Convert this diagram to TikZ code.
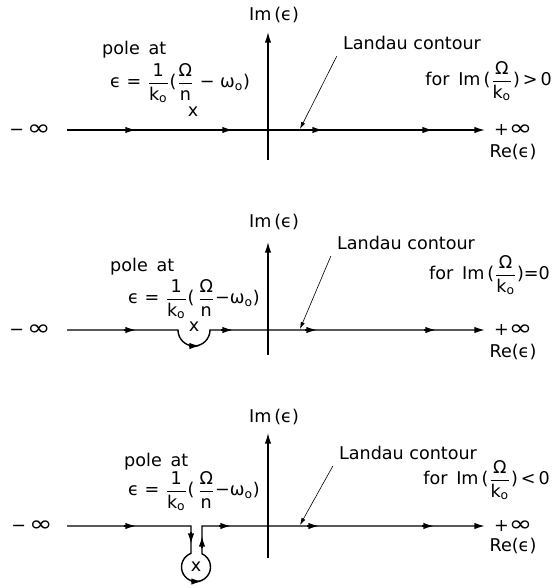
\documentclass[tikz,border=0pt]{standalone}
\usepackage{amsmath}
\usepackage{fontspec}
\setmainfont{DejaVu Sans}
\usetikzlibrary{arrows.meta}
\newcommand{\vfr}[2]{$\genfrac{}{}{0.4pt}{0}{\text{#1}}{\text{#2}}$}
\newcommand{\ko}{k$_\text{o}$}
\newcommand{\infsym}{\scalebox{1.6}[1.25]{∞}}

\begin{document}
\begin{tikzpicture}[x=0.02cm, y=0.02cm,
  every node/.style={font=\fontsize{10}{12}\selectfont},
  contour/.style={line width=0.8pt, -{Latex[length=6pt,width=3.6pt]}},
  axis/.style={line width=0.7pt, -{Latex[length=6pt,width=3.6pt]}},
  midtip/.style={line width=0.8pt, -{Latex[length=6pt,width=3.6pt]}},
  pointer/.style={line width=0.35pt, -{Latex[length=4pt,width=2.4pt]}}]
  \useasboundingbox (0,0) rectangle (556,-588);

  % Im(Omega/k0) > 0 : straight contour
  \node (im1) at (274,-15) {Im\,(ϵ)};
  \draw[axis] (268,-160) -- (268,-32);
  \draw[contour] (67,-130) -- (485,-130);
  \foreach \ax in {136,233,323,433} \draw[midtip] (\ax-12,-130) -- (\ax,-130);
  \node (minf1) at (30,-130) {−\,\infsym};
  \node[anchor=west] (pinf1) at (488,-130) {+\infsym};
  \node (re1) at (513,-152) {Re(ϵ)};
  \node[anchor=west] (pole1) at (96,-50) {pole\hspace{0.5em}at};
  \node[anchor=west] (eq1) at (104,-83) {ϵ = \vfr{1}{\ko}(\vfr{Ω}{n} − ω$_\text{o}$)};
  \node (x1) at (193,-112) {x};
  \node (landau1) at (412,-43) {Landau contour};
  \node[anchor=east] (cond1) at (558,-81) {for\hspace{0.5em}Im\,(\vfr{Ω}{\ko})\,>\,0};
  \coordinate (hit1) at (300,-129);
  \draw[pointer] (landau1.south west) -- (hit1);

  % Im(Omega/k0) = 0 : half circle under the pole
  \node (im2) at (274,-222) {Im\,(ϵ)};
  \draw[axis] (268,-355) -- (268,-242);
  \draw[contour] (67,-330) -- (178,-330) arc (180:360:16) -- (485,-330);
  \foreach \ax in {136,233,317,436} \draw[midtip] (\ax-12,-330) -- (\ax,-330);
  \draw[midtip] (189,-346) -- (200,-346);
  \node (minf2) at (30,-330) {−\,\infsym};
  \node[anchor=west] (pinf2) at (488,-330) {+\infsym};
  \node (re2) at (513,-352) {Re(ϵ)};
  \node[anchor=west] (pole2) at (104,-267) {pole\hspace{0.5em}at};
  \node[anchor=west] (eq2) at (122,-299) {ϵ = \vfr{1}{\ko}(\,\vfr{Ω}{n}−ω$_\text{o}$)};
  \node (x2) at (194,-327) {x};
  \node (landau2) at (406,-243) {Landau contour};
  \node[anchor=east] (cond2) at (556,-275) {for\hspace{0.5em}Im\,(\vfr{Ω}{\ko})=0};
  \coordinate (hit2) at (300,-329);
  \draw[pointer] (landau2.south west) -- (hit2);

  % Im(Omega/k0) < 0 : contour dips round the pole
  \node (im3) at (274,-417) {Im\,(ϵ)};
  \draw[axis] (268,-558) -- (268,-433);
  \draw[contour] (67,-526) -- (191,-526) -- (191,-553.4) arc (110.2:425.6:14.5)
    -- (202,-526) -- (485,-526);
  \foreach \ax in {136,231,319,434} \draw[midtip] (\ax-12,-526) -- (\ax,-526);
  \draw[midtip] (191,-532) -- (191,-544);
  \draw[midtip] (202,-548) -- (202,-536);
  \draw[midtip] (191,-581.5) -- (202,-581.5);
  \node (minf3) at (32,-526) {−\,\infsym};
  \node[anchor=west] (pinf3) at (488,-526) {+\infsym};
  \node (re3) at (513,-546) {Re(ϵ)};
  \node[anchor=west] (pole3) at (118,-462) {pole\hspace{0.5em}at};
  \node[anchor=west] (eq3) at (122,-491) {ϵ = \vfr{1}{\ko}(\,\vfr{Ω}{n}−ω$_\text{o}$)};
  \node (x3) at (196,-567) {x};
  \node (landau3) at (408,-453) {Landau contour};
  \node[anchor=east] (cond3) at (556,-480) {for\hspace{0.5em}Im\,(\vfr{Ω}{\ko})\,<\,0};
  \coordinate (hit3) at (300,-525);
  \draw[pointer] (landau3.south west) -- (hit3);
\end{tikzpicture}
\end{document}
